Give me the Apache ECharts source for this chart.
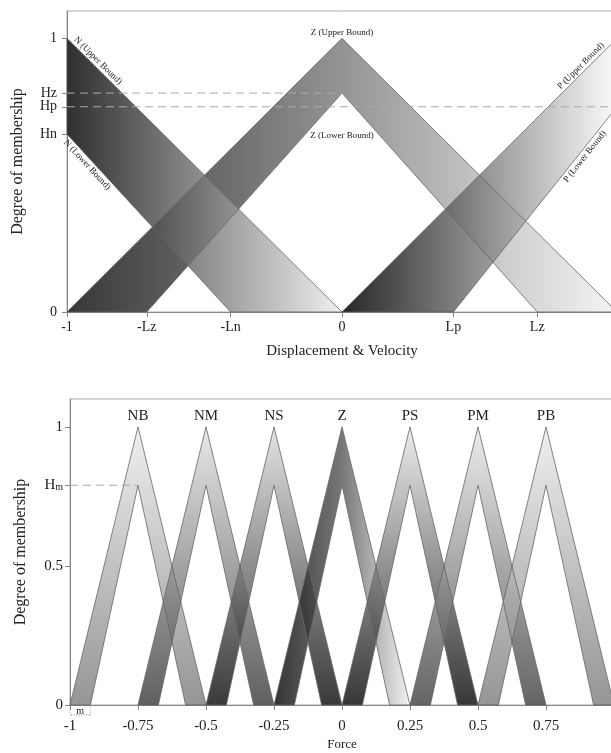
<!DOCTYPE html>
<html><head><meta charset="utf-8">
<script src="https://cdn.jsdelivr.net/npm/echarts@6/dist/echarts.min.js"></script>
<style>html,body{margin:0;padding:0;background:#fff}#c{width:611px;height:753px}</style>
</head><body><div id="c"></div>
<script>
// ===== Top chart: Displacement & Velocity (interval type-2 sets N, Z, P) =====
const Hz = 0.80, Hp = 0.75, Hn = 0.65;
const Lz = 0.71, Ln = 0.405, Lp = 0.405;
const topXTickValues = [-1, -Lz, -Ln, 0, Lp, Lz];
const topXTickLabels = ['-1', '-Lz', '-Ln', '0', 'Lp', 'Lz'];
const topYTickValues = [0, Hn, Hp, Hz, 1];
const topYTickLabels = ['0', 'Hn', 'Hp', 'Hz', '1'];
const nUpper = [[-1, 1], [0, 0]];
const nLower = [[-1, Hn], [-Ln, 0]];
const zUpper = [[-1, 0], [0, 1], [1, 0]];
const zLower = [[-Lz, 0], [0, Hz], [Lz, 0]];
const pUpper = [[0, 0], [1, 1]];
const pLower = [[Lp, 0], [1, Hp]];
const hzLine = [[-1, Hz], [0, Hz]];
const hpLine = [[-1, Hp], [1, Hp]];

// ===== Bottom chart: Force (seven triangular type-2 sets) =====
const forceSets = ['NB', 'NM', 'NS', 'Z', 'PS', 'PM', 'PB'];
const forceCenters = [-0.75, -0.5, -0.25, 0, 0.25, 0.5, 0.75];
const forceHalfWidth = 0.25;
const forceM = 0.075;
const Hm = 0.79;
const botXTickValues = [-1, -0.75, -0.5, -0.25, 0, 0.25, 0.5, 0.75, 1];
const botXTickLabels = ['-1', '-0.75', '-0.5', '-0.25', '0', '0.25', '0.5', '0.75', '1'];
const botYTickValues = [0, 0.5, Hm, 1];
const botYTickLabels = ['0', '0.5', '{h|H}{s|m}', '1'];
const hmLine = [[-1, Hm], [-0.75, Hm]];

// ===== styles =====
const SERIF = '"Liberation Serif", "DejaVu Serif", serif';
const ALPHA = 0.85;
function g(target) { // apparent grey over white -> actual grey at ALPHA
  let v = Math.round((target - 255 * (1 - ALPHA)) / ALPHA);
  v = Math.max(0, Math.min(255, v));
  return 'rgb(' + v + ',' + v + ',' + v + ')';
}
function hGrad(stops) { return new echarts.graphic.LinearGradient(0, 0, 1, 0, stops.map(s => ({offset: s[0], color: g(s[1])}))); }
function vGrad(stops) { return new echarts.graphic.LinearGradient(0, 0, 0, 1, stops.map(s => ({offset: s[0], color: g(s[1])}))); }

const topPolys = [
  zUpper.concat(zLower.slice().reverse()),
  nUpper.concat(nLower.slice().reverse()),
  pUpper.concat(pLower.slice().reverse())
];
const topFills = [
  () => hGrad([[0, 55], [0.5, 148], [1, 245]]),
  () => hGrad([[0, 48], [1, 240]]),
  () => hGrad([[0, 22], [1, 252]])
];

const botPolys = forceCenters.map(c => {
  const up = [[c - forceHalfWidth, 0], [c, 1], [c + forceHalfWidth, 0]];
  const lo = [[c - forceHalfWidth + forceM, 0], [c, Hm], [c + forceHalfWidth - forceM, 0]];
  return up.concat(lo.slice().reverse());
});
const botFills = [
  () => vGrad([[0, 240], [1, 150]]),
  () => vGrad([[0, 232], [1, 95]]),
  () => vGrad([[0, 228], [1, 58]]),
  () => hGrad([[0, 52], [0.5, 120], [1, 242]]),
  () => vGrad([[0, 236], [1, 55]]),
  () => vGrad([[0, 236], [1, 100]]),
  () => vGrad([[0, 240], [1, 150]])
];

function fmt(values, labels) {
  return function (v) {
    for (let i = 0; i < values.length; i++) if (Math.abs(values[i] - v) < 1e-6) return labels[i];
    return '';
  };
}

function fillSeries(idx, polys, fills) {
  return {
    type: 'custom', xAxisIndex: idx, yAxisIndex: idx, z: 2, silent: true,
    data: polys.map((p, i) => [p[0][0], p[0][1], i]),
    renderItem: function (params, api) {
      const poly = polys[params.dataIndex];
      return {type: 'polygon', shape: {points: poly.map(p => api.coord(p))},
        style: {fill: fills[params.dataIndex](), opacity: ALPHA}};
    }
  };
}
function outlineSeries(idx, polys) {
  return {
    type: 'custom', xAxisIndex: idx, yAxisIndex: idx, z: 3, silent: true,
    data: polys.map((p, i) => [p[0][0], p[0][1], i]),
    renderItem: function (params, api) {
      const poly = polys[params.dataIndex];
      return {type: 'polygon', shape: {points: poly.map(p => api.coord(p))},
        style: {fill: 'none', stroke: '#666', lineWidth: 0.8}};
    }
  };
}
function dashSeries(idx, lines) {
  return {
    type: 'custom', xAxisIndex: idx, yAxisIndex: idx, z: 4, silent: true,
    data: lines.map((l, i) => [l[0][0], l[0][1], i]),
    renderItem: function (params, api) {
      const l = lines[params.dataIndex];
      const a = api.coord(l[0]), b = api.coord(l[1]);
      return {type: 'line', shape: {x1: a[0], y1: a[1], x2: b[0], y2: b[1]},
        style: {stroke: '#aaa', lineWidth: 1, lineDash: [8, 5]}};
    }
  };
}

// rotated labels along boundary lines of the top chart
const topNotes = [
  {text: 'N (Upper Bound)', seg: nUpper, from: 'start', dist: 6, side: 1},
  {text: 'N (Lower Bound)', seg: nLower, from: 'start', dist: 4, side: -1},
  {text: 'P (Upper Bound)', seg: pUpper, from: 'end', dist: 14, side: 1},
  {text: 'P (Lower Bound)', seg: pLower, from: 'start', dist: 172, side: -1}
];
const topTextSeries = {
  type: 'custom', xAxisIndex: 0, yAxisIndex: 0, z: 5, silent: true,
  data: [[0, 0, 0]],
  renderItem: function (params, api) {
    const children = [];
    topNotes.forEach(n => {
      const p1 = api.coord(n.seg[0]), p2 = api.coord(n.seg[1]);
      const dx = p2[0] - p1[0], dy = p2[1] - p1[1];
      const len = Math.sqrt(dx * dx + dy * dy);
      const ux = dx / len, uy = dy / len;
      const nx = uy, ny = -ux;
      let x, y;
      if (n.from === 'start') { x = p1[0] + ux * n.dist; y = p1[1] + uy * n.dist; }
      else { x = p2[0] - ux * n.dist; y = p2[1] - uy * n.dist; }
      x += nx * 1.5 * n.side; y += ny * 1.5 * n.side;
      children.push({type: 'text', x: x, y: y, rotation: -Math.atan2(dy, dx),
        style: {text: n.text, fontFamily: SERIF, fontSize: 9, fill: '#222',
          align: n.from === 'start' ? 'left' : 'right', verticalAlign: n.side > 0 ? 'bottom' : 'top'}});
    });
    const zu = api.coord([0, 1]);
    children.push({type: 'text', x: zu[0], y: zu[1] - 1,
      style: {text: 'Z (Upper Bound)', fontFamily: SERIF, fontSize: 9, fill: '#222', align: 'center', verticalAlign: 'bottom'}});
    const zl = api.coord([0, Hz]);
    children.push({type: 'text', x: zl[0], y: zl[1] + 43,
      style: {text: 'Z (Lower Bound)', fontFamily: SERIF, fontSize: 9, fill: '#222', align: 'center', verticalAlign: 'middle'}});
    return {type: 'group', children: children};
  }
};

const botTextSeries = {
  type: 'custom', xAxisIndex: 1, yAxisIndex: 1, z: 5, silent: true,
  data: [[0, 0, 0]],
  renderItem: function (params, api) {
    const children = [];
    forceSets.forEach((name, i) => {
      const p = api.coord([forceCenters[i], 1]);
      children.push({type: 'text', x: p[0], y: p[1] - 3,
        style: {text: name, fontFamily: SERIF, fontSize: 15, fill: '#222', align: 'center', verticalAlign: 'bottom'}});
    });
    const a = api.coord([-1, 0]), b = api.coord([-1 + forceM, 0]);
    children.push({type: 'text', x: (a[0] + b[0]) / 2, y: a[1] + 6,
      style: {text: 'm', fontFamily: SERIF, fontSize: 10, fill: '#222', align: 'center', verticalAlign: 'middle'}});
    children.push({type: 'line', shape: {x1: a[0] + 1, y1: a[1] + 10, x2: b[0] - 1, y2: b[1] + 10},
      style: {stroke: '#555', lineWidth: 0.8, lineDash: [1, 1.5]}});
    [a, b].forEach(p => children.push({type: 'line', shape: {x1: p[0], y1: p[1] + 2, x2: p[0], y2: p[1] + 11},
      style: {stroke: '#777', lineWidth: 0.6, lineDash: [1, 1.5]}}));
    return {type: 'group', children: children};
  }
};

const axisColor = '#888';
function xAxisCfg(idx, vals, labels, name, fs, nameGap, nameFs) {
  return {
    gridIndex: idx, type: 'value', min: -1, max: 1,
    axisLine: {onZero: false, lineStyle: {color: axisColor, width: 1}},
    axisTick: {customValues: vals, length: 5, lineStyle: {color: axisColor}},
    axisLabel: {customValues: vals, formatter: fmt(vals, labels), color: '#222', fontFamily: SERIF, fontSize: fs, margin: idx === 0 ? 8 : 14},
    splitLine: {show: false},
    name: name, nameLocation: 'middle', nameGap: nameGap,
    nameTextStyle: {color: '#222', fontFamily: SERIF, fontSize: nameFs}
  };
}
function yAxisCfg(idx, vals, labels, fs) {
  return {
    gridIndex: idx, type: 'value', min: 0, max: 1.1,
    axisLine: {show: true, onZero: false, lineStyle: {color: axisColor, width: 1}},
    axisTick: {show: true, customValues: vals, length: 5, lineStyle: {color: axisColor}},
    axisLabel: {customValues: vals, formatter: fmt(vals, labels), color: '#222', fontFamily: SERIF, fontSize: fs, margin: idx === 0 ? 10 : 7,
      rich: {h: {fontFamily: SERIF, fontSize: fs, color: '#222'}, s: {fontFamily: SERIF, fontSize: 10, color: '#222', padding: [5, 0, 0, 0]}}},
    splitLine: {show: false},
    name: 'Degree of membership', nameLocation: 'middle', nameGap: 41, nameRotate: 90,
    nameTextStyle: {color: '#222', fontFamily: SERIF, fontSize: 16}
  };
}

const chart = echarts.init(document.getElementById('c'), null, {renderer: 'canvas'});
chart.setOption({
  animation: false,
  backgroundColor: '#fff',
  grid: [
    {left: 67, top: 11, width: 550, height: 301, show: true, borderColor: '#aaa', borderWidth: 1, containLabel: false, outerBoundsMode: 'none'},
    {left: 70, top: 399, width: 544, height: 306, show: true, borderColor: '#aaa', borderWidth: 1, containLabel: false, outerBoundsMode: 'none'}
  ],
  xAxis: [
    xAxisCfg(0, topXTickValues, topXTickLabels, 'Displacement & Velocity', 14, 32, 15),
    xAxisCfg(1, botXTickValues, botXTickLabels, 'Force', 15, 33, 13)
  ],
  yAxis: [
    yAxisCfg(0, topYTickValues, topYTickLabels, 14),
    yAxisCfg(1, botYTickValues, botYTickLabels, 15)
  ],
  series: [
    fillSeries(0, topPolys, topFills),
    outlineSeries(0, topPolys),
    dashSeries(0, [hzLine, hpLine]),
    topTextSeries,
    fillSeries(1, botPolys, botFills),
    outlineSeries(1, botPolys),
    dashSeries(1, [hmLine]),
    botTextSeries
  ]
});
</script>
</body></html>
